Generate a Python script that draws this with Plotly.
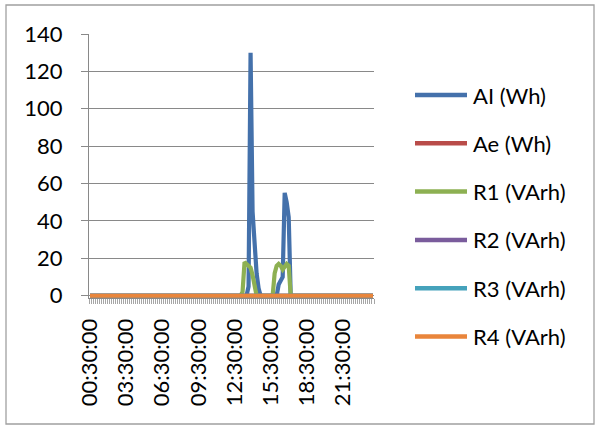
import plotly.graph_objects as go

# Time stamps: 10-minute readings from 00:30 to 24:00
start_min = 30
step_min = 10
n_points = 142
times = []
for k in range(n_points):
    m = (start_min + k * step_min) % 1440
    times.append(f"{m // 60:02d}:{m % 60:02d}:00")

# Energy readings per interval (mostly zero, two activity windows)
al_wh = ([0] * 79 + [5, 130, 45, 25, 12, 4]
         + [0] * 9 + [6, 8, 10, 55, 50, 42]
         + [0] * 42)
ae_wh = [0] * n_points
r1_varh = ([0] * 76 + [2, 18, 17, 16, 15, 11, 5]
           + [0] * 9 + [12, 16, 17, 16, 14, 16, 17, 16]
           + [0] * 42)
r2_varh = [0] * n_points
r3_varh = [0] * n_points
r4_varh = [0] * n_points

series_names = ["AI (Wh)", "Ae (Wh)", "R1 (VArh)", "R2 (VArh)", "R3 (VArh)", "R4 (VArh)"]
series_values = [al_wh, ae_wh, r1_varh, r2_varh, r3_varh, r4_varh]
series_colors = ["#4471AB", "#B94C49", "#8DB052", "#7A5C9C", "#45A2BB", "#E9853B"]

y_ticks = [0, 20, 40, 60, 80, 100, 120, 140]
label_every = 18

FONT = "Lato"
GRID = "#898989"

# plot-area geometry in pixels (used to place the frame and legend)
W, H = 596, 426
ML, MR, MT, MB = 89, 222, 34, 128
PW, PH = W - ML - MR, H - MT - MB


def px_x(p):
    return (p - ML) / PW


def px_y(p):
    return (H - MB - p) / PH


x_idx = list(range(n_points))

fig = go.Figure()
for name, vals, col in zip(series_names, series_values, series_colors):
    fig.add_trace(go.Scatter(
        x=x_idx, y=vals, name=name, mode="lines",
        line=dict(color=col, width=4.2),
        showlegend=False,
    ))

fig.update_layout(
    width=W, height=H,
    margin=dict(l=ML, r=MR, t=MT, b=MB, pad=0),
    paper_bgcolor="white", plot_bgcolor="white",
    font=dict(family=FONT, size=22, color="black"),
)

fig.update_xaxes(
    range=[-0.5, n_points - 0.5],
    tickmode="array",
    tickvals=x_idx[::label_every],
    ticktext=times[::label_every],
    tickangle=-90,
    ticks="",
    ticklabelstandoff=11,
    showgrid=False, zeroline=False,
    showline=True, linecolor=GRID, linewidth=1,
    minor=dict(tickmode="linear", tick0=-0.5, dtick=1, ticks="outside",
               ticklen=5, tickcolor="#a6a6a6", tickwidth=1, showgrid=False),
    tickfont=dict(family=FONT, size=22, color="black"),
)

fig.update_yaxes(
    range=[-1.2, 140],
    tickmode="array", tickvals=y_ticks,
    ticks="outside", ticklen=7, tickcolor=GRID, tickwidth=1,
    ticklabelstandoff=14,
    showgrid=True, gridcolor=GRID, gridwidth=1,
    zeroline=False,
    showline=True, linecolor=GRID, linewidth=1,
    tickfont=dict(family=FONT, size=22, color="black"),
)

# chart frame
fig.add_shape(type="rect", xref="paper", yref="paper",
              x0=px_x(6), x1=px_x(594), y0=px_y(424), y1=px_y(5),
              line=dict(color="#a0a0a0", width=1.3), fillcolor="rgba(0,0,0,0)",
              layer="below")

# legend: line sample + label for each series
legend_top = 95
legend_gap = 48.3
for k, (name, col) in enumerate(zip(series_names, series_colors)):
    yy = legend_top + k * legend_gap
    fig.add_shape(type="line", xref="paper", yref="paper",
                  x0=px_x(415), x1=px_x(467), y0=px_y(yy), y1=px_y(yy),
                  line=dict(color=col, width=4.5))
    fig.add_annotation(xref="paper", yref="paper", x=px_x(471), y=px_y(yy),
                       text=name, showarrow=False, xanchor="left", yanchor="middle",
                       font=dict(family=FONT, size=22, color="black"))

fig.write_html("out.html")
